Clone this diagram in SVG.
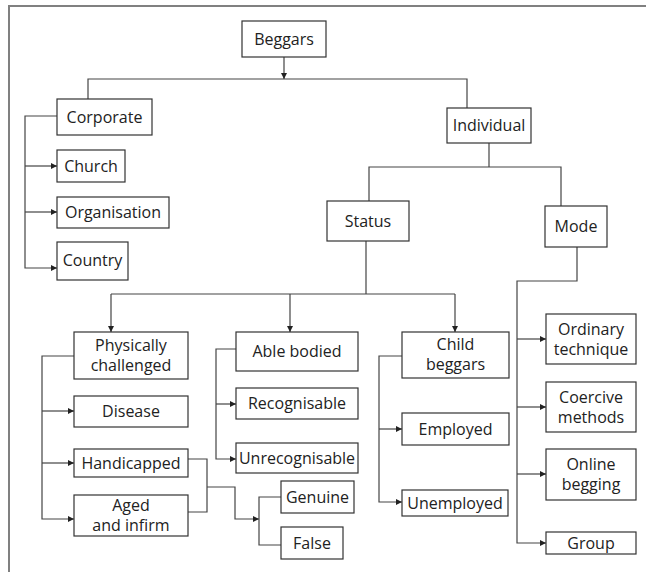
<svg xmlns="http://www.w3.org/2000/svg" width="646" height="572" viewBox="0 0 646 572">
<style>
.box{fill:#fff;stroke:#333;stroke-width:1.2}
.t{font-family:"Open Sans","Liberation Sans",sans-serif;font-size:16px;fill:#222;text-anchor:middle}
.c{fill:none;stroke:#444;stroke-width:1.2}
.a{marker-end:url(#ah)}
</style>
<defs>
<marker id="ah" markerUnits="userSpaceOnUse" markerWidth="7" markerHeight="7" refX="6" refY="3" orient="auto">
<path d="M0,0 L6,3 L0,6 Z" fill="#222"/>
</marker>
</defs>
<rect width="646" height="572" fill="#fff"/>
<path d="M9 572 V6 H646" fill="none" stroke="#808080" stroke-width="2"/>
<g id="connectors">
<path class="c a" d="M284 57 V79"/>
<path class="c" d="M88 99 V79 H467 V108"/>
<path class="c a" d="M57 116 H25 V268 H57"/>
<path class="c a" d="M25 166 H57"/>
<path class="c a" d="M25 212 H57"/>
<path class="c" d="M489 143 V167"/>
<path class="c" d="M369 201 V167 H561 V206"/>
<path class="c" d="M366 241 V294"/>
<path class="c" d="M111 294 H455"/>
<path class="c a" d="M111 294 V332"/>
<path class="c a" d="M290 294 V332"/>
<path class="c a" d="M455 294 V332"/>
<path class="c a" d="M577 247 V281 H517 V543 H546"/>
<path class="c a" d="M517 339 H546"/>
<path class="c a" d="M517 407 H546"/>
<path class="c a" d="M517 474 H546"/>
<path class="c a" d="M74 356 H42 V519 H74"/>
<path class="c a" d="M42 411 H74"/>
<path class="c a" d="M42 463 H74"/>
<path class="c a" d="M236 349 H216 V459 H236"/>
<path class="c a" d="M216 404 H236"/>
<path class="c a" d="M402 356 H379 V502 H402"/>
<path class="c a" d="M379 429 H402"/>
<path class="c" d="M188 459 H207 V512 H188"/>
<path class="c a" d="M207 487 H235 V519 H259"/>
<path class="c" d="M281 497 H259 V545 H281"/>
</g>
<g id="beggars"><rect class="box" x="242" y="21" width="84" height="36"/><text class="t" x="284" y="44.5">Beggars</text></g>
<g id="corporate"><rect class="box" x="57" y="99" width="95" height="36"/><text class="t" x="104.5" y="122.5">Corporate</text></g>
<g id="church"><rect class="box" x="57" y="150" width="68" height="32"/><text class="t" x="91" y="171.5">Church</text></g>
<g id="organisation"><rect class="box" x="57" y="197" width="112" height="31"/><text class="t" x="113" y="218">Organisation</text></g>
<g id="country"><rect class="box" x="57" y="242" width="71" height="38"/><text class="t" x="92.5" y="265.5">Country</text></g>
<g id="individual"><rect class="box" x="447" y="108" width="84" height="35"/><text class="t" x="489" y="131">Individual</text></g>
<g id="status"><rect class="box" x="327" y="201" width="82" height="40"/><text class="t" x="368" y="226.5">Status</text></g>
<g id="mode"><rect class="box" x="545" y="206" width="62" height="41"/><text class="t" x="576" y="232">Mode</text></g>
<g id="physically"><rect class="box" x="74" y="332" width="114" height="47"/><text class="t" x="131" y="351">Physically</text><text class="t" x="131" y="371">challenged</text></g>
<g id="able"><rect class="box" x="236" y="332" width="122" height="39"/><text class="t" x="297" y="357">Able bodied</text></g>
<g id="child"><rect class="box" x="402" y="332" width="107" height="46"/><text class="t" x="455.5" y="350">Child</text><text class="t" x="455.5" y="370">beggars</text></g>
<g id="disease"><rect class="box" x="74" y="396" width="114" height="31"/><text class="t" x="131" y="417">Disease</text></g>
<g id="recognisable"><rect class="box" x="236" y="388" width="122" height="31"/><text class="t" x="297" y="409">Recognisable</text></g>
<g id="employed"><rect class="box" x="402" y="413" width="107" height="32"/><text class="t" x="455.5" y="434.5">Employed</text></g>
<g id="handicapped"><rect class="box" x="74" y="449" width="114" height="28"/><text class="t" x="131" y="468.5">Handicapped</text></g>
<g id="unrecognisable"><rect class="box" x="236" y="443" width="122" height="30"/><text class="t" x="297" y="463.5">Unrecognisable</text></g>
<g id="aged"><rect class="box" x="74" y="495" width="114" height="41"/><text class="t" x="131" y="511">Aged</text><text class="t" x="131" y="531">and infirm</text></g>
<g id="genuine"><rect class="box" x="281" y="481" width="73" height="32"/><text class="t" x="317.5" y="502.5">Genuine</text></g>
<g id="false"><rect class="box" x="281" y="527" width="62" height="32"/><text class="t" x="312" y="548.5">False</text></g>
<g id="unemployed"><rect class="box" x="402" y="490" width="106" height="26"/><text class="t" x="455" y="508.5">Unemployed</text></g>
<g id="ordinary"><rect class="box" x="546" y="314" width="90" height="50"/><text class="t" x="591" y="334.5">Ordinary</text><text class="t" x="591" y="354.5">technique</text></g>
<g id="coercive"><rect class="box" x="546" y="382" width="90" height="50"/><text class="t" x="591" y="402.5">Coercive</text><text class="t" x="591" y="422.5">methods</text></g>
<g id="online"><rect class="box" x="546" y="449" width="90" height="51"/><text class="t" x="591" y="470">Online</text><text class="t" x="591" y="490">begging</text></g>
<g id="group"><rect class="box" x="546" y="532" width="90" height="22"/><text class="t" x="591" y="548.5">Group</text></g>
</svg>
